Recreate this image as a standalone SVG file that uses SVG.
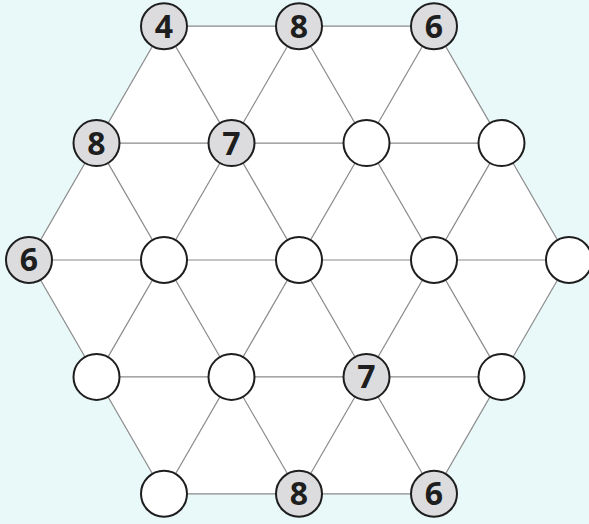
<svg xmlns="http://www.w3.org/2000/svg" width="589" height="524" viewBox="0 0 589 524">
<style>
.bg{fill:#e9f8f8}
.hex{fill:#ffffff}
.e{stroke:#8a8a8a;stroke-width:1.2;fill:none}
.n{fill:#ffffff;stroke:#1e1e1e;stroke-width:2}
.g{fill:#dcdcde}
.t{font-family:"Open Sans","Noto Sans",sans-serif;font-weight:700;font-size:32px;fill:#1e1e1e;text-anchor:middle}
</style>
<rect class="bg" x="0" y="0" width="589" height="524"/>
<polygon class="hex" points="164,26.2 434,26.2 569,260 434,493.8 164,493.8 29,260"/>
<g id="connectors">
<line class="e" x1="164" y1="26.2" x2="434" y2="26.2"/>
<line class="e" x1="96.5" y1="143.1" x2="501.5" y2="143.1"/>
<line class="e" x1="29" y1="260" x2="569" y2="260"/>
<line class="e" x1="96.5" y1="376.9" x2="501.5" y2="376.9"/>
<line class="e" x1="164" y1="493.8" x2="434" y2="493.8"/>
<line class="e" x1="29" y1="260" x2="164" y2="26.2"/>
<line class="e" x1="96.5" y1="376.9" x2="299" y2="26.2"/>
<line class="e" x1="164" y1="493.8" x2="434" y2="26.2"/>
<line class="e" x1="299" y1="493.8" x2="501.5" y2="143.1"/>
<line class="e" x1="434" y1="493.8" x2="569" y2="260"/>
<line class="e" x1="434" y1="26.2" x2="569" y2="260"/>
<line class="e" x1="299" y1="26.2" x2="501.5" y2="376.9"/>
<line class="e" x1="164" y1="26.2" x2="434" y2="493.8"/>
<line class="e" x1="96.5" y1="143.1" x2="299" y2="493.8"/>
<line class="e" x1="29" y1="260" x2="164" y2="493.8"/>
</g>
<g id="n-a0"><circle class="n g" cx="164" cy="26.2" r="23"/><text class="t" x="164" y="37.6">4</text></g>
<g id="n-a1"><circle class="n g" cx="299" cy="26.2" r="23"/><text class="t" x="299" y="37.6">8</text></g>
<g id="n-a2"><circle class="n g" cx="434" cy="26.2" r="23"/><text class="t" x="434" y="37.6">6</text></g>
<g id="n-b0"><circle class="n g" cx="96.5" cy="143.1" r="23"/><text class="t" x="96.5" y="154.5">8</text></g>
<g id="n-b1"><circle class="n g" cx="231.5" cy="143.1" r="23"/><text class="t" x="231.5" y="154.5">7</text></g>
<g id="n-b2"><circle class="n" cx="366.5" cy="143.1" r="23"/></g>
<g id="n-b3"><circle class="n" cx="501.5" cy="143.1" r="23"/></g>
<g id="n-c0"><circle class="n g" cx="29" cy="260" r="23"/><text class="t" x="29" y="271.4">6</text></g>
<g id="n-c1"><circle class="n" cx="164" cy="260" r="23"/></g>
<g id="n-c2"><circle class="n" cx="299" cy="260" r="23"/></g>
<g id="n-c3"><circle class="n" cx="434" cy="260" r="23"/></g>
<g id="n-c4"><circle class="n" cx="569" cy="260" r="23"/></g>
<g id="n-d0"><circle class="n" cx="96.5" cy="376.9" r="23"/></g>
<g id="n-d1"><circle class="n" cx="231.5" cy="376.9" r="23"/></g>
<g id="n-d2"><circle class="n g" cx="366.5" cy="376.9" r="23"/><text class="t" x="366.5" y="388.3">7</text></g>
<g id="n-d3"><circle class="n" cx="501.5" cy="376.9" r="23"/></g>
<g id="n-e0"><circle class="n" cx="164" cy="493.8" r="23"/></g>
<g id="n-e1"><circle class="n g" cx="299" cy="493.8" r="23"/><text class="t" x="299" y="505.2">8</text></g>
<g id="n-e2"><circle class="n g" cx="434" cy="493.8" r="23"/><text class="t" x="434" y="505.2">6</text></g>
</svg>
